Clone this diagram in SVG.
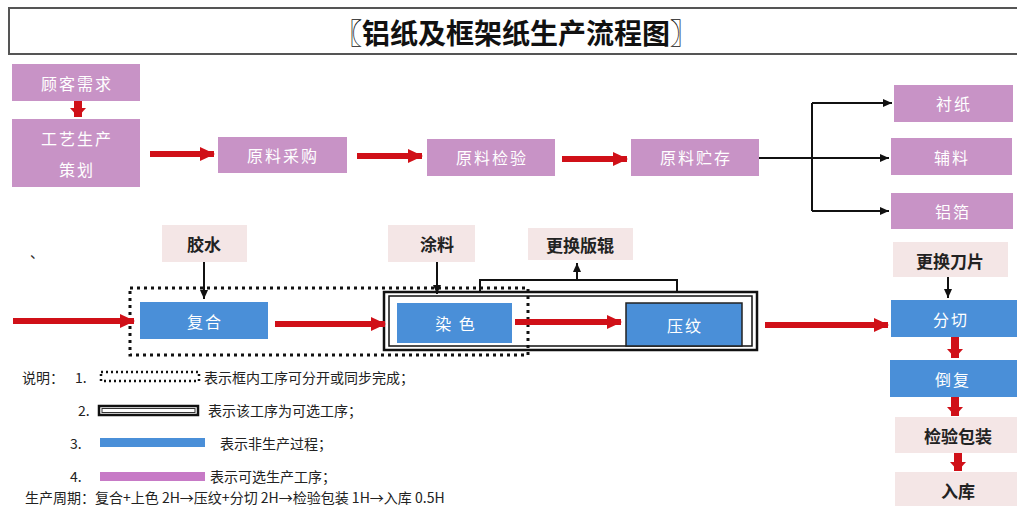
<svg xmlns="http://www.w3.org/2000/svg" width="1017" height="506" viewBox="0 0 1017 506">
<defs>
<style>
.p{fill:#c893c6}
.b{fill:#4a8fd8}
.l{fill:#f4e6e6}
.tw{font-family:"Noto Sans CJK SC",sans-serif;fill:#fff;font-size:16px;text-anchor:middle;dominant-baseline:central;letter-spacing:2px}
.tb{font-family:"Noto Sans CJK SC",sans-serif;fill:#222;font-size:17px;font-weight:bold;text-anchor:middle;dominant-baseline:central}
.tl{font-family:"Noto Sans CJK SC",sans-serif;fill:#222;font-size:14px;dominant-baseline:central}
.red{stroke:#d01018;stroke-width:6;fill:none}
.redv{stroke:#d01018;stroke-width:8;fill:none}
.blk{stroke:#111;stroke-width:2;fill:none}
</style>
<marker id="rh" markerUnits="userSpaceOnUse" markerWidth="16" markerHeight="16" refX="14" refY="8" orient="auto"><path d="M0,1 L15,8 L0,15 Z" fill="#d01018"/></marker>
<marker id="rv" markerUnits="userSpaceOnUse" markerWidth="18" markerHeight="18" refX="9" refY="9" orient="auto"><path d="M0,1 L9,9 L0,17 Z" fill="#d01018"/></marker>
<marker id="bh" markerUnits="userSpaceOnUse" markerWidth="10" markerHeight="10" refX="9" refY="5" orient="auto"><path d="M0,1 L9,5 L0,9 Z" fill="#111"/></marker>
</defs>
<rect width="1017" height="506" fill="#fff"/>
<g id="title">
<rect x="9" y="8" width="1012" height="46" fill="#fff" stroke="#555" stroke-width="2"/>
<text x="516" y="32" font-family="Noto Sans CJK SC,sans-serif" font-size="28" font-weight="bold" text-anchor="middle" dominant-baseline="central" fill="#111">〖铝纸及框架纸生产流程图〗</text>
</g>
<g id="n-guke"><rect class="p" x="12" y="64" width="128" height="37"/><text class="tw" x="77" y="83">顾客需求</text></g>
<g id="n-gongyi"><rect class="p" x="12" y="119" width="128" height="68"/><text class="tw" x="77" y="138">工艺生产</text><text class="tw" x="77" y="169">策划</text></g>
<g id="n-caigou"><rect class="p" x="218" y="137" width="129" height="36"/><text class="tw" x="283" y="155">原料采购</text></g>
<g id="n-jianyan"><rect class="p" x="427" y="139" width="128" height="37"/><text class="tw" x="492" y="157">原料检验</text></g>
<g id="n-zhucun"><rect class="p" x="631" y="139" width="128" height="37"/><text class="tw" x="696" y="157">原料贮存</text></g>
<g id="n-chenzhi"><rect class="p" x="894" y="85" width="119" height="37"/><text class="tw" x="954" y="103">衬纸</text></g>
<g id="n-fuliao"><rect class="p" x="891" y="138" width="121" height="37"/><text class="tw" x="952" y="157">辅料</text></g>
<g id="n-lvbo"><rect class="p" x="891" y="193" width="122" height="36"/><text class="tw" x="953" y="211">铝箔</text></g>

<g id="n-jiaoshui"><rect class="l" x="162" y="225" width="85" height="37"/><text class="tb" x="204" y="243">胶水</text></g>
<g id="n-tuliao"><rect class="l" x="388" y="225" width="87" height="37"/><text class="tb" x="437" y="243">涂料</text></g>
<g id="n-banggun"><rect class="l" x="528" y="228" width="105" height="32"/><text class="tb" x="580" y="244">更换版辊</text></g>
<g id="n-daopian"><rect class="l" x="893" y="242" width="115" height="35"/><text class="tb" x="950" y="260">更换刀片</text></g>

<g id="g-dotted"><rect x="130" y="288" width="398" height="67" fill="none" stroke="#111" stroke-width="3" stroke-dasharray="3,4"/></g>
<g id="g-optional"><rect x="384" y="292" width="373" height="58" fill="none" stroke="#111" stroke-width="2.5"/><rect x="389" y="296" width="363" height="50" fill="none" stroke="#111" stroke-width="1.5"/></g>

<g id="n-fuhe"><rect class="b" x="140" y="302" width="128" height="37"/><text class="tw" x="205" y="321" font-size="17">复合</text></g>
<g id="n-ranse"><rect class="b" x="397" y="303" width="115" height="40"/><text class="tw" x="456" y="323" font-size="17">染 色</text></g>
<g id="n-yawen"><rect class="b" x="626" y="303" width="116" height="43" stroke="#222" stroke-width="1.5"/><text class="tw" x="685" y="325" font-size="17">压纹</text></g>
<g id="n-fenqie"><rect class="b" x="891" y="300" width="126" height="37"/><text class="tw" x="951" y="319">分切</text></g>
<g id="n-daofu"><rect class="b" x="890" y="360" width="127" height="37"/><text class="tw" x="953" y="379">倒复</text></g>
<g id="n-baozhuang"><rect class="l" x="895" y="417" width="122" height="36"/><text class="tb" x="958" y="435">检验包装</text></g>
<g id="n-ruku"><rect class="l" x="895" y="472" width="122" height="34"/><text class="tb" x="958" y="490">入库</text></g>

<g id="connectors">
<line class="redv" x1="78" y1="101" x2="78" y2="117" marker-end="url(#rv)"/>
<line class="red" x1="150" y1="154" x2="214" y2="154" marker-end="url(#rh)"/>
<line class="red" x1="357" y1="156" x2="422" y2="156" marker-end="url(#rh)"/>
<line class="red" x1="562" y1="159" x2="627" y2="159" marker-end="url(#rh)"/>
<line class="blk" x1="759" y1="158" x2="889" y2="158" marker-end="url(#bh)"/>
<line class="blk" x1="812" y1="103" x2="812" y2="211"/>
<line class="blk" x1="812" y1="103" x2="892" y2="103" marker-end="url(#bh)"/>
<line class="blk" x1="812" y1="211" x2="889" y2="211" marker-end="url(#bh)"/>
<line class="blk" x1="204" y1="262" x2="204" y2="299" marker-end="url(#bh)"/>
<line class="blk" x1="437" y1="262" x2="437" y2="294" marker-end="url(#bh)"/>
<polyline class="blk" points="480,292 480,280 677,280 677,292"/>
<line class="blk" x1="577" y1="280" x2="577" y2="263" marker-end="url(#bh)"/>
<line class="blk" x1="948" y1="277" x2="948" y2="298" marker-end="url(#bh)"/>
<line class="red" x1="13" y1="321" x2="134" y2="321" marker-end="url(#rh)"/>
<line class="red" x1="275" y1="324" x2="385" y2="324" marker-end="url(#rh)"/>
<line class="red" x1="515" y1="322" x2="621" y2="322" marker-end="url(#rh)"/>
<line class="red" x1="765" y1="325" x2="888" y2="325" marker-end="url(#rh)"/>
<line class="redv" x1="955" y1="337" x2="955" y2="358" marker-end="url(#rv)"/>
<line class="redv" x1="955" y1="397" x2="955" y2="416" marker-end="url(#rv)"/>
<line class="redv" x1="958" y1="453" x2="958" y2="471" marker-end="url(#rv)"/>
</g>

<g id="legend">
<text x="30" y="258" font-family="Noto Sans CJK SC,sans-serif" font-size="14" fill="#333">、</text>
<text class="tl" x="22" y="377" font-size="13">说明：</text>
<text class="tl" x="75" y="377" font-size="15">1.</text>
<rect x="101" y="372" width="98" height="9" fill="none" stroke="#111" stroke-width="2.5" stroke-dasharray="2,3"/>
<text class="tl" x="204" y="377">表示框内工序可分开或同步完成；</text>
<text class="tl" x="78" y="410" font-size="15">2.</text>
<rect x="99" y="406" width="99" height="9" fill="none" stroke="#111" stroke-width="2.5"/>
<rect x="102" y="408.5" width="93" height="4" fill="none" stroke="#333" stroke-width="1"/>
<text class="tl" x="208" y="410">表示该工序为可选工序；</text>
<text class="tl" x="70" y="443" font-size="15">3.</text>
<rect x="100" y="438" width="105" height="9" fill="#4a8fd8"/>
<text class="tl" x="220" y="443">表示非生产过程；</text>
<text class="tl" x="70" y="476" font-size="15">4.</text>
<rect x="100" y="472" width="105" height="9" fill="#c77ac6"/>
<text class="tl" x="210" y="476">表示可选生产工序；</text>
<text class="tl" x="25" y="497" font-size="12">生产周期：复合+上色 2H→压纹+分切 2H→检验包装 1H→入库 0.5H</text>
</g>
</svg>
